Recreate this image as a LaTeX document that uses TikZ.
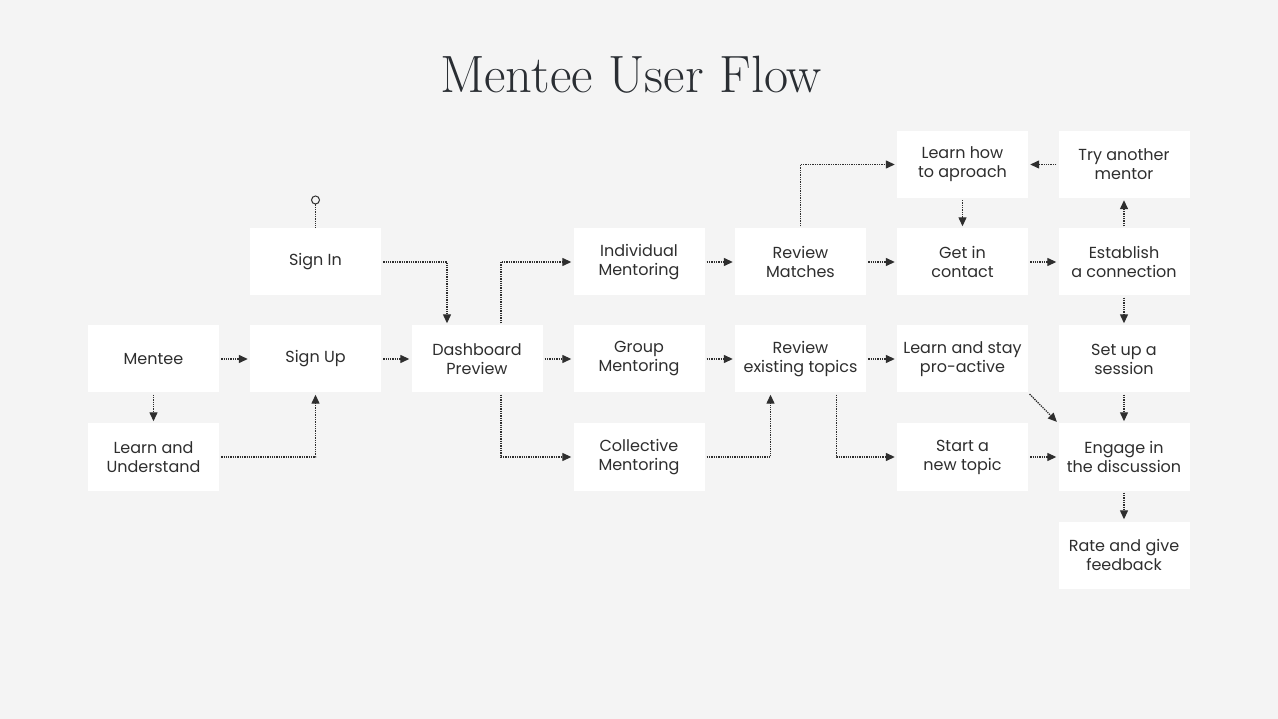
\documentclass[tikz,border=0pt]{standalone}
\usepackage{fontspec}
\setsansfont{Poppins}
\usetikzlibrary{arrows.meta}
\definecolor{bg}{HTML}{F4F4F4}
\definecolor{ink}{HTML}{2E2E2E}
\definecolor{titleink}{HTML}{2A2E33}

\begin{document}
\begin{tikzpicture}[x=1pt,y=-1pt,
    box/.style={fill=white,minimum width=131pt,minimum height=67pt,inner sep=0,align=center,
        text=ink,font=\sffamily\fontsize{16}{19}\selectfont},
    link/.style={densely dotted,line width=1.3pt,draw=ink,-{Triangle[length=9pt,width=8pt]},
        shorten >=2pt,shorten <=2pt}]
    \fill[bg] (0,0) rectangle (1278,719);
    \node[text=titleink,font=\rmfamily\fontsize{52.5}{60}\selectfont] (title) at (631,75) {Mentee User Flow};

    % first columns
    \node[box] (mentee) at (153.5,359) {Mentee};
    \node[box] (learn) at (153.5,457) {Learn and\\Understand};
    \node[box] (signin) at (315.5,262) {Sign In};
    \node[box] (signup) at (315.5,359) {Sign Up};
    \node[box] (dash) at (477,359) {Dashboard\\Preview};
    \node[box] (indiv) at (639,262) {Individual\\Mentoring};
    \node[box] (group) at (639,359) {Group\\Mentoring};
    \node[box] (coll) at (639,457) {Collective\\Mentoring};
    % right part
    \node[box] (revmatch) at (800.5,262) {Review\\Matches};
    \node[box] (revtop) at (800.5,359) {Review\\existing topics};
    \node[box] (learnhow) at (962.5,164.5) {Learn how\\to aproach};
    \node[box] (contact) at (962.5,262) {Get in\\contact};
    \node[box] (stay) at (962.5,359) {Learn and stay\\pro-active};
    \node[box] (newtopic) at (962.5,457) {Start a\\new topic};
    \node[box] (another) at (1124,164.5) {Try another\\mentor};
    \node[box] (connect) at (1124,262) {Establish\\a connection};
    \node[box] (session) at (1124,359) {Set up a\\session};
    \node[box] (engage) at (1124,457) {Engage in\\the discussion};
    \node[box] (rate) at (1124,555) {Rate and give\\feedback};

    \node[circle,draw=ink,line width=1pt,fill=bg,inner sep=0,minimum size=8pt] (start) at (315.5,200) {};
    \draw[densely dotted,line width=1.3pt,draw=ink] (start) -- (signin.north);

    \draw[link] (signin.east) -| ([xshift=-30pt]dash.north);
    \draw[link] (mentee) -- (signup);
    \draw[link] (mentee) -- (learn);
    \draw[link] (learn.east) -| (signup.south);
    \draw[link] (signup) -- (dash);
    \draw[link] ([xshift=24pt]dash.north) |- (indiv.west);
    \draw[link] (dash) -- (group);
    \draw[link] ([xshift=24pt]dash.south) |- (coll.west);
    \draw[link] (indiv) -- (revmatch);
    \draw[link] (group) -- (revtop);
    \draw[link] (coll.east) -| ([xshift=-30pt]revtop.south);
    \draw[link] (revmatch.north) |- (learnhow.west);
    \draw[link] (revmatch) -- (contact);
    \draw[link] (learnhow) -- (contact);
    \draw[link] (another) -- (learnhow);
    \draw[link] (contact) -- (connect);
    \draw[link] (connect) -- (another);
    \draw[link] (connect) -- (session);
    \draw[link] (revtop) -- (stay);
    \draw[link] ([xshift=36pt]revtop.south) |- (newtopic.west);
    \draw[link] (stay.south east) -- (engage.north west);
    \draw[link] (newtopic) -- (engage);
    \draw[link] (session) -- (engage);
    \draw[link] (engage) -- (rate);
\end{tikzpicture}
\end{document}
